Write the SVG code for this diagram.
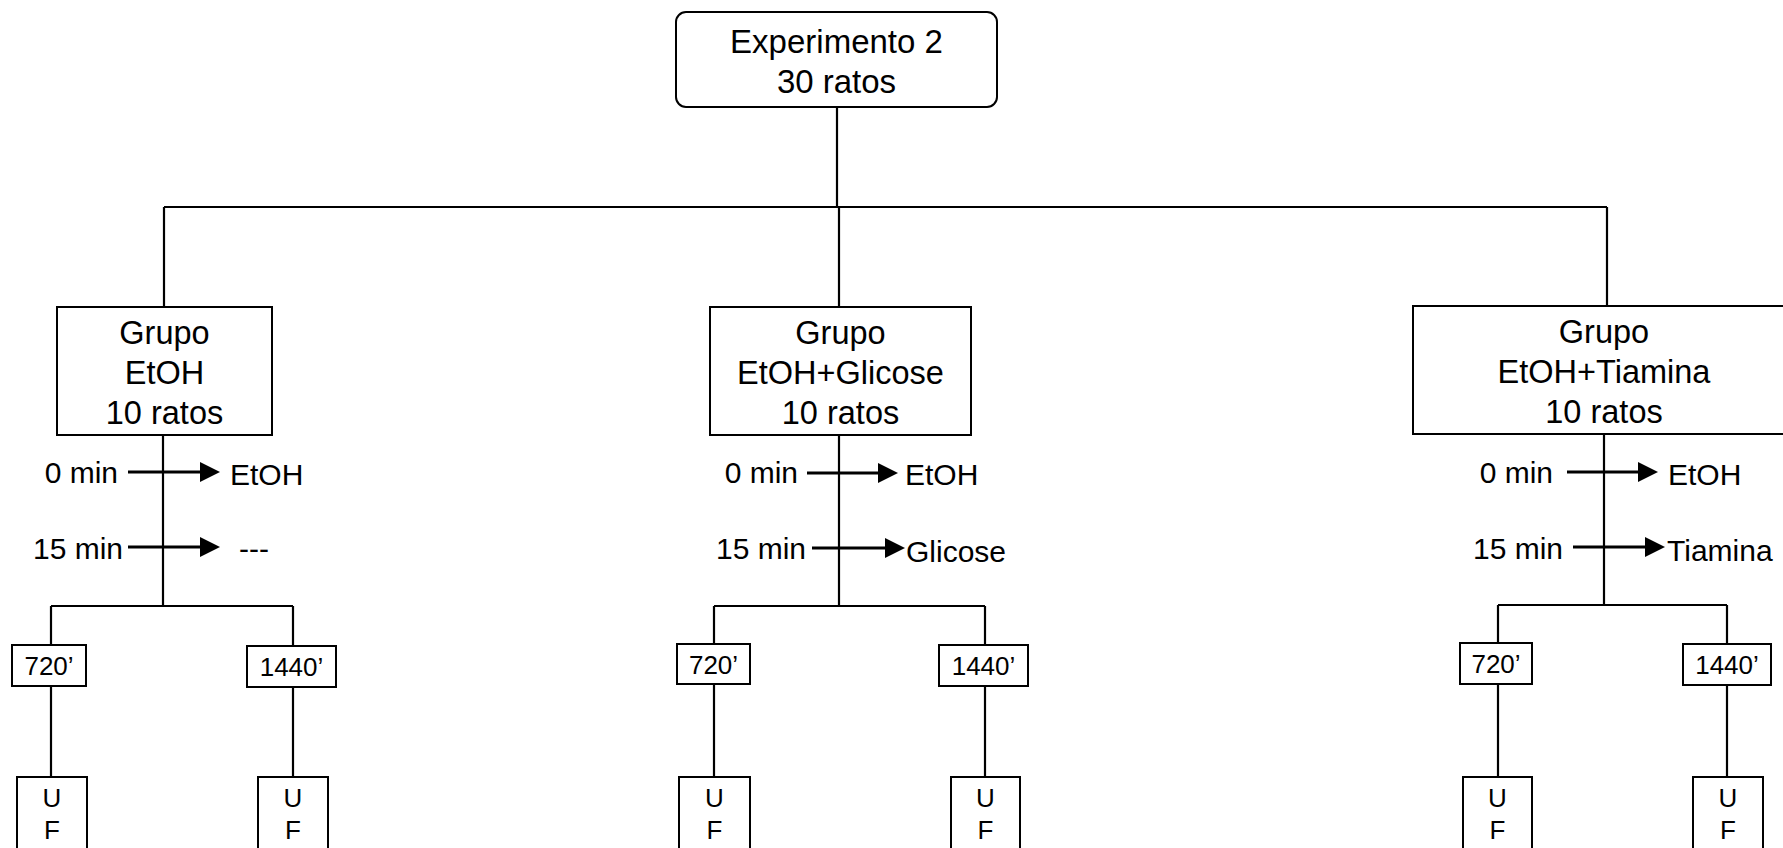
<svg xmlns="http://www.w3.org/2000/svg" width="1783" height="848" viewBox="0 0 1783 848">
<style>
.box{fill:#fff;stroke:#000;stroke-width:2}
.ln{fill:none;stroke:#000;stroke-width:2.2}
.ar{fill:none;stroke:#000;stroke-width:3.2}
.hd{fill:#000}
text{font-family:"Liberation Sans",Arial,sans-serif;fill:#000}
.big{font-size:32.5px;text-anchor:middle}
.lab{font-size:30px}
.end{text-anchor:end}
.sm{font-size:26px;text-anchor:middle}
</style>
<rect width="1783" height="848" fill="#fff"/>
<g id="connectors">
<path class="ln" d="M837 107V207M164 207H1607M164 207V307M839 207V307M1607 207V306"/>
<path class="ln" d="M163 435V606M51 606H293M51 606V645M293 606V646M51 686V777M293 687V777"/>
<path class="ln" d="M839 435V606M714 606H985M714 606V644M985 606V645M714 684V777M985 686V777"/>
<path class="ln" d="M1604 434V605M1498 605H1727M1498 605V643M1727 605V644M1498 684V777M1727 685V777"/>
<g id="arrows">
<path class="ar" d="M128 472H202M128 547H202M807 473H880M812 548H887M1567 472H1640M1573 547H1647"/>
<polygon class="hd" points="200,462 220,472 200,482"/>
<polygon class="hd" points="200,537 220,547 200,557"/>
<polygon class="hd" points="878,463 898,473 878,483"/>
<polygon class="hd" points="885,538 905,548 885,558"/>
<polygon class="hd" points="1638,462 1658,472 1638,482"/>
<polygon class="hd" points="1645,537 1665,547 1645,557"/>
</g>
</g>
<g id="top">
<rect class="box" x="676" y="12" width="321" height="95" rx="10"/>
<text class="big" x="836.5" y="53" style="font-size:33px">Experimento 2</text>
<text class="big" x="836.5" y="93" style="font-size:33px">30 ratos</text>
</g>
<g id="grupo-etoh">
<rect class="box" x="57" y="307" width="215" height="128"/>
<text class="big" x="164.5" y="344">Grupo</text>
<text class="big" x="164.5" y="384">EtOH</text>
<text class="big" x="164.5" y="424">10 ratos</text>
</g>
<g id="grupo-glicose">
<rect class="box" x="710" y="307" width="261" height="128"/>
<text class="big" x="840.5" y="344">Grupo</text>
<text class="big" x="840.5" y="384">EtOH+Glicose</text>
<text class="big" x="840.5" y="424">10 ratos</text>
</g>
<g id="grupo-tiamina">
<rect class="box" x="1413" y="306" width="382" height="128"/>
<text class="big" x="1604" y="343">Grupo</text>
<text class="big" x="1604" y="383">EtOH+Tiamina</text>
<text class="big" x="1604" y="423">10 ratos</text>
</g>
<g id="labels">
<text class="lab end" x="118" y="483">0 min</text>
<text class="lab" x="230" y="485">EtOH</text>
<text class="lab end" x="123" y="559">15 min</text>
<text class="lab" x="239" y="559">---</text>
<text class="lab end" x="798" y="483">0 min</text>
<text class="lab" x="905" y="485">EtOH</text>
<text class="lab end" x="806" y="559">15 min</text>
<text class="lab" x="906" y="562">Glicose</text>
<text class="lab end" x="1553" y="483">0 min</text>
<text class="lab" x="1668" y="485">EtOH</text>
<text class="lab end" x="1563" y="559">15 min</text>
<text class="lab" x="1667" y="561">Tiamina</text>
</g>
<g id="t720-etoh"><rect class="box" x="12" y="645" width="74" height="41"/><text class="sm" x="49" y="675">720’</text></g>
<g id="t1440-etoh"><rect class="box" x="247" y="646" width="89" height="41"/><text class="sm" x="291.5" y="676">1440’</text></g>
<g id="t720-glicose"><rect class="box" x="677" y="644" width="73" height="40"/><text class="sm" x="713.5" y="674">720’</text></g>
<g id="t1440-glicose"><rect class="box" x="939" y="645" width="89" height="41"/><text class="sm" x="983.5" y="675">1440’</text></g>
<g id="t720-tiamina"><rect class="box" x="1460" y="643" width="72" height="41"/><text class="sm" x="1496" y="673">720’</text></g>
<g id="t1440-tiamina"><rect class="box" x="1683" y="644" width="88" height="41"/><text class="sm" x="1727" y="674">1440’</text></g>
<g id="uf1"><rect class="box" x="17" y="777" width="70" height="90"/><text class="sm" x="52" y="807">U</text><text class="sm" x="52" y="839">F</text></g>
<g id="uf2"><rect class="box" x="258" y="777" width="70" height="90"/><text class="sm" x="293" y="807">U</text><text class="sm" x="293" y="839">F</text></g>
<g id="uf3"><rect class="box" x="679" y="777" width="71" height="90"/><text class="sm" x="714.5" y="807">U</text><text class="sm" x="714.5" y="839">F</text></g>
<g id="uf4"><rect class="box" x="951" y="777" width="69" height="90"/><text class="sm" x="985.5" y="807">U</text><text class="sm" x="985.5" y="839">F</text></g>
<g id="uf5"><rect class="box" x="1463" y="777" width="69" height="90"/><text class="sm" x="1497.5" y="807">U</text><text class="sm" x="1497.5" y="839">F</text></g>
<g id="uf6"><rect class="box" x="1693" y="777" width="70" height="90"/><text class="sm" x="1728" y="807">U</text><text class="sm" x="1728" y="839">F</text></g>
</svg>
